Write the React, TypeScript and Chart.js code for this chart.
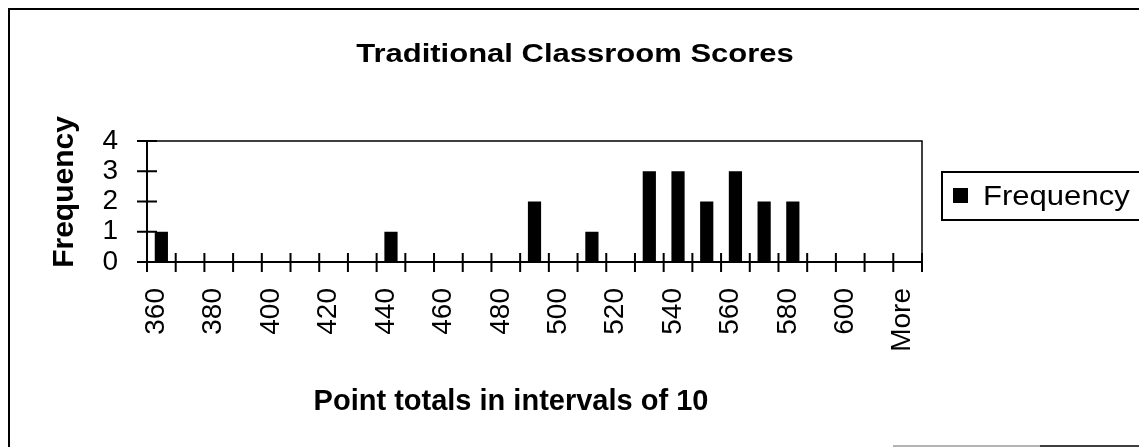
import React, { useEffect, useRef } from "react";
import { Chart, registerables } from "chart.js";

Chart.register(...registerables);

const chartTitle = "Traditional Classroom Scores";
const xAxisTitle = "Point totals in intervals of 10";
const yAxisTitle = "Frequency";
const seriesName = "Frequency";

const categories = [
  "360", "370", "380", "390", "400", "410", "420", "430", "440", "450",
  "460", "470", "480", "490", "500", "510", "520", "530", "540", "550",
  "560", "570", "580", "590", "600", "610", "More",
];
const frequency = [1, 0, 0, 0, 0, 0, 0, 0, 1, 0, 0, 0, 0, 2, 0, 1, 0, 3, 3, 2, 3, 2, 2, 0, 0, 0, 0];
const yTicks = [0, 1, 2, 3, 4];

const FONT = '"Liberation Sans", Arial, Helvetica, sans-serif';
const W = 1139;
const H = 439;

function stretchedText(
  ctx: CanvasRenderingContext2D,
  text: string,
  x: number,
  y: number,
  sx: number,
  align: CanvasTextAlign
) {
  ctx.save();
  ctx.translate(x, y);
  ctx.scale(sx, 1);
  ctx.textAlign = align;
  ctx.fillText(text, 0, 0);
  ctx.restore();
}

const decor = {
  id: "decor",
  afterDraw(chart: any) {
    const ctx = chart.ctx as CanvasRenderingContext2D;
    const { left, right, top, bottom } = chart.chartArea;
    const xs = chart.scales.x;
    const ys = chart.scales.y;
    ctx.save();
    ctx.strokeStyle = "#000";
    ctx.lineCap = "butt";

    // outer chart border
    ctx.lineWidth = 2;
    ctx.beginPath();
    ctx.moveTo(1, H);
    ctx.lineTo(1, 1);
    ctx.lineTo(W, 1);
    ctx.stroke();
    ctx.lineWidth = 1.5;
    ctx.strokeStyle = "#9a9a9a";
    ctx.beginPath();
    ctx.moveTo(885, 438);
    ctx.lineTo(1032, 438);
    ctx.stroke();
    ctx.strokeStyle = "#000";
    ctx.beginPath();
    ctx.moveTo(1032, 438);
    ctx.lineTo(W, 438);
    ctx.stroke();

    // plot area border (top / right)
    ctx.lineWidth = 1.5;
    ctx.beginPath();
    ctx.moveTo(left, top);
    ctx.lineTo(right, top);
    ctx.lineTo(right, bottom);
    ctx.stroke();

    // axes
    ctx.lineWidth = 2;
    ctx.beginPath();
    ctx.moveTo(left, top);
    ctx.lineTo(left, bottom + 10);
    ctx.moveTo(left, bottom);
    ctx.lineTo(right, bottom);
    ctx.stroke();

    // y ticks (cross)
    ctx.beginPath();
    for (const v of yTicks) {
      const py = ys.getPixelForValue(v);
      ctx.moveTo(left - 10, py);
      ctx.lineTo(left + 10, py);
    }
    // x ticks (cross) at category boundaries
    for (let i = 0; i <= categories.length; i++) {
      const px = xs.getPixelForValue(i - 0.5);
      ctx.moveTo(px, bottom - 9);
      ctx.lineTo(px, bottom + 10);
    }
    ctx.stroke();

    // titles
    ctx.fillStyle = "#000";
    ctx.textBaseline = "alphabetic";
    ctx.font = `bold 25px ${FONT}`;
    stretchedText(ctx, chartTitle, 567, 54, 1.24, "center");

    ctx.font = `bold 29px ${FONT}`;
    stretchedText(ctx, xAxisTitle, 503, 402, 1, "center");

    ctx.save();
    ctx.translate(65, 184);
    ctx.rotate(-Math.PI / 2);
    ctx.font = `bold 30px ${FONT}`;
    ctx.textAlign = "center";
    ctx.fillText(yAxisTitle, 0, 0);
    ctx.restore();

    // legend
    ctx.lineWidth = 2;
    ctx.strokeRect(934, 164, 198, 48);
    ctx.fillRect(945, 180, 15, 15);
    ctx.font = `27px ${FONT}`;
    stretchedText(ctx, chart.data.datasets[0].label, 975, 197, 1.15, "left");

    ctx.restore();
  },
};

export default function App() {
  const ref = useRef<HTMLCanvasElement | null>(null);

  useEffect(() => {
    document.documentElement.style.overflow = "hidden";
    document.body.style.overflow = "hidden";
    const canvas = ref.current;
    if (!canvas) return;
    Chart.defaults.font.family = FONT;
    const chart = new Chart(canvas, {
      type: "bar",
      data: {
        labels: categories,
        datasets: [
          {
            label: seriesName,
            data: frequency,
            backgroundColor: "#000",
            borderWidth: 0,
            barPercentage: 0.46,
            categoryPercentage: 1.0,
          },
        ],
      },
      options: {
        animation: false,
        responsive: false,
        maintainAspectRatio: false,
        devicePixelRatio: 1,
        layout: { padding: { left: 0, top: 133, right: W - 914, bottom: 0 } },
        plugins: {
          legend: { display: false },
          title: { display: false },
          tooltip: { enabled: false },
        },
        scales: {
          x: {
            grid: { display: false, drawTicks: false },
            border: { display: false },
            ticks: {
              autoSkip: false,
              minRotation: 90,
              maxRotation: 90,
              padding: 26,
              labelOffset: -5,
              color: "#000",
              font: { size: 28, family: FONT },
              callback: (_v: any, i: number) => (i % 2 === 0 ? categories[i] : ""),
            },
            afterFit: (s: any) => {
              s.height = H - 254;
            },
          },
          y: {
            min: 0,
            max: 4,
            grid: { display: false, drawTicks: false },
            border: { display: false },
            ticks: {
              stepSize: 1,
              autoSkip: false,
              padding: 29,
              color: "#000",
              font: { size: 28, family: FONT },
            },
            afterFit: (s: any) => {
              s.width = 139;
            },
          },
        },
      },
      plugins: [decor],
    });
    return () => chart.destroy();
  }, []);

  return (
    <div>
      <canvas ref={ref} width={W} height={H} style={{ display: "block" }} />
    </div>
  );
}
